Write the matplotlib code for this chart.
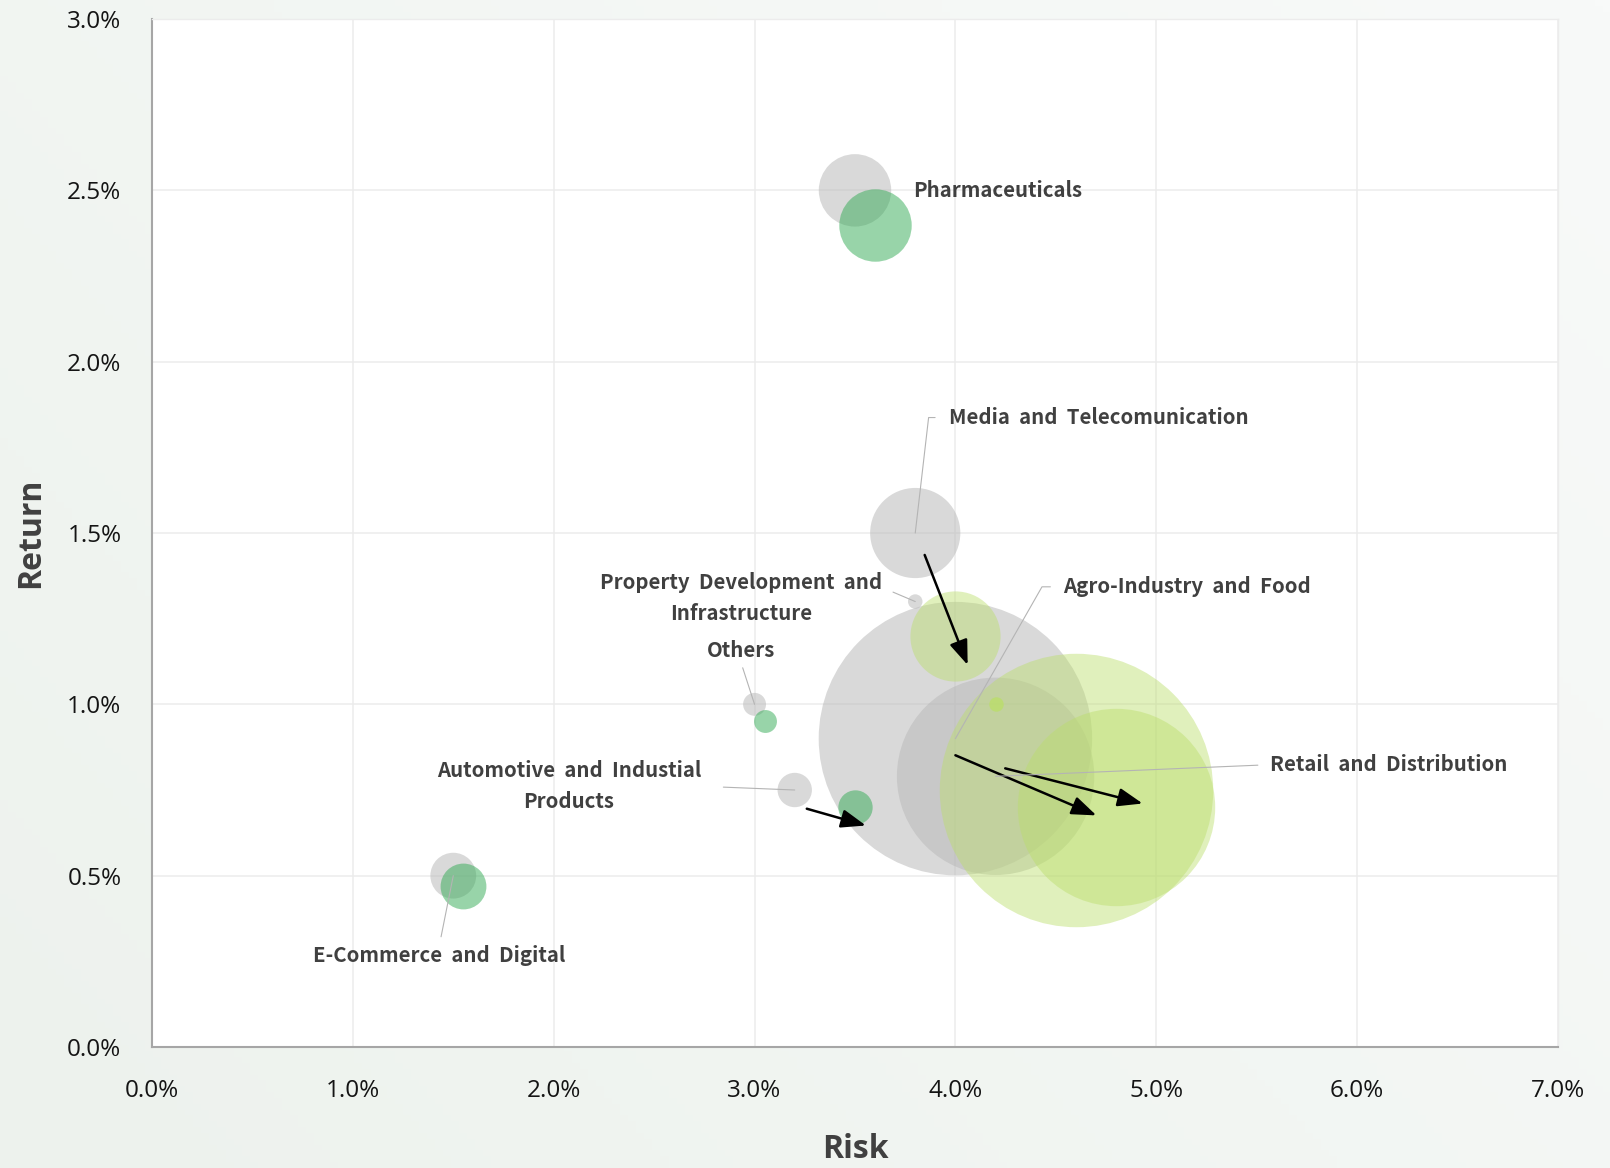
import numpy as np
import matplotlib
matplotlib.use("Agg")
import matplotlib.pyplot as plt
from matplotlib.colors import LinearSegmentedColormap

plt.rcParams['font.family'] = ['Open Sans', 'DejaVu Sans']

# sector risk/return, before (grey) and after (green) rebalancing, in %
sectors = ["Pharmaceuticals", "Media  and  Telecomunication",
           "Property  Development  and\nInfrastructure", "Others",
           "Agro-Industry  and  Food", "Retail  and  Distribution",
           "Automotive  and  Industial\nProducts", "E-Commerce  and  Digital"]
risk_before = [3.5, 3.8, 3.8, 3.0, 4.0, 4.2, 3.2, 1.5]
return_before = [2.5, 1.5, 1.3, 1.0, 0.9, 0.79, 0.75, 0.5]
risk_after = [3.6, 4.0, 4.2, 3.05, 4.6, 4.8, 3.5, 1.55]
return_after = [2.4, 1.2, 1.0, 0.95, 0.75, 0.70, 0.70, 0.47]
weight = [4.0, 6.2, 0.16, 0.4, 57.0, 29.7, 0.9, 1.6]   # portfolio weight, %
after_group = ["green", "lime", "lime", "green", "lime", "lime", "green", "green"]

x_ticks = [0, 1, 2, 3, 4, 5, 6, 7]
y_ticks = [0.0, 0.5, 1.0, 1.5, 2.0, 2.5, 3.0]

# label placement: (x, y, ha, va, relpos of leader, shrink in pt, bend angle)
label_style = [
    (3.79, 2.50, 'left', 'center', None, 0, None),
    (3.968, 1.837, 'left', 'center', (0, 0.5), 8, 83.4),
    (2.935, 1.31, 'center', 'center', (1, 0.7), 6, None),
    (2.93, 1.157, 'center', 'center', (0.5, 0), 3, None),
    (4.535, 1.343, 'left', 'center', (0, 0.5), 7, 60.3),
    (5.568, 0.824, 'left', 'center', (0, 0.5), 7, None),
    (2.076, 0.761, 'center', 'center', (1, 0.5), 14, None),
    (1.431, 0.267, 'center', 'center', (0.5, 1), 4, None),
]
# movement arrows: sector index -> (tail fraction, head fraction, offset pt)
arrow_style = {1: (0.2, 1.27, (1, -1)),
               4: (0.0, 1.17, (0, -12)),
               5: (0.08, 1.22, (0, 7.5)),
               6: (0.2, 1.18, (0, -11))}

fig = plt.figure(figsize=(16.1, 11.68), dpi=100)

# soft background wash
bg = fig.add_axes([0, 0, 1, 1], zorder=-10)
gx, gy = np.meshgrid(np.linspace(0, 1, 200), np.linspace(0, 1, 200))
bg_cmap = LinearSegmentedColormap.from_list("bg", ["#edf2ed", "#f8faf9"])
bg.imshow(0.6 * gx + 0.4 * gy, cmap=bg_cmap, origin='lower', aspect='auto',
          extent=[0, 1, 0, 1])
bg.axis('off')

ax = fig.add_axes([0.0944, 0.1036, 0.8733, 0.8801])
ax.set_facecolor('white')

k = 680  # marker area per weight point
sizes = [w * k for w in weight]
colors = {"green": ("#33ab55", 0.5), "lime": ("#bbde6b", 0.45)}

ax.scatter(risk_before, return_before, s=sizes, color='#bababa', alpha=0.55,
           linewidths=0, zorder=2)
for i in range(len(sectors)):
    c, a = colors[after_group[i]]
    if weight[i] < 0.5 and after_group[i] == "lime":
        a = 0.8
    ax.scatter(risk_after[i], return_after[i], s=sizes[i], color=c, alpha=a,
               linewidths=0, zorder=3)

for i, (t0, t1, (ox, oy)) in arrow_style.items():
    dx = risk_after[i] - risk_before[i]
    dy = return_after[i] - return_before[i]
    tail = (risk_before[i] + t0 * dx, return_before[i] + t0 * dy)
    head = (risk_before[i] + t1 * dx, return_before[i] + t1 * dy)
    tr = matplotlib.transforms.offset_copy(ax.transData, fig=fig, x=ox, y=oy,
                                           units='points')
    ax.annotate("", xy=head, xycoords=tr, xytext=tail, textcoords=tr,
                arrowprops=dict(arrowstyle='-|>,head_length=0.75,head_width=0.28',
                                mutation_scale=20, color='black', lw=1.8,
                                shrinkA=0, shrinkB=0),
                zorder=5)

# sector labels with leader lines to the original position
for i, name in enumerate(sectors):
    x, y, ha, va, rel, shr, bend = label_style[i]
    props = None
    if rel is not None:
        props = dict(arrowstyle='-', color='#b4b4b4', lw=0.8, relpos=rel,
                     shrinkA=shr, shrinkB=0)
        if bend is not None:
            props['connectionstyle'] = f"angle,angleA=0,angleB={bend},rad=0"
    ax.annotate(name, xy=(risk_before[i], return_before[i]), xytext=(x, y),
                textcoords='data', ha=ha, va=va, fontsize=14.7,
                family=['Noto Sans CJK KR', 'DejaVu Sans'],
                fontweight='bold', color='#404040', linespacing=1.6,
                multialignment='center', arrowprops=props, zorder=6)

ax.set_xlim(0, 7)
ax.set_ylim(0, 3)
ax.set_xticks(x_ticks)
ax.set_yticks(y_ticks)
ax.set_xticklabels([f"{v:.1f}%" for v in x_ticks])
ax.set_yticklabels([f"{v:.1f}%" for v in y_ticks])
ax.tick_params(length=0, labelsize=17.5, labelcolor='#141414')
ax.tick_params(axis='x', pad=23)
ax.tick_params(axis='y', pad=22)
ax.grid(True, color='#ececec', lw=1.1)
ax.set_axisbelow(True)

for side in ['left', 'bottom']:
    ax.spines[side].set_color('#a6a6a6')
    ax.spines[side].set_linewidth(1.5)
for side in ['top', 'right']:
    ax.spines[side].set_color('#ececec')
    ax.spines[side].set_linewidth(1.0)

ax.set_xlabel("Risk", fontsize=23, fontweight='bold', color='#404040')
ax.set_ylabel("Return", fontsize=23, fontweight='bold', color='#404040')
ax.xaxis.set_label_coords(0.5, -0.100)
ax.xaxis.label.set_va('center')
ax.yaxis.set_label_coords(-0.086, 0.5)
ax.yaxis.label.set_va('center')

fig.savefig("out.png", dpi=100)
